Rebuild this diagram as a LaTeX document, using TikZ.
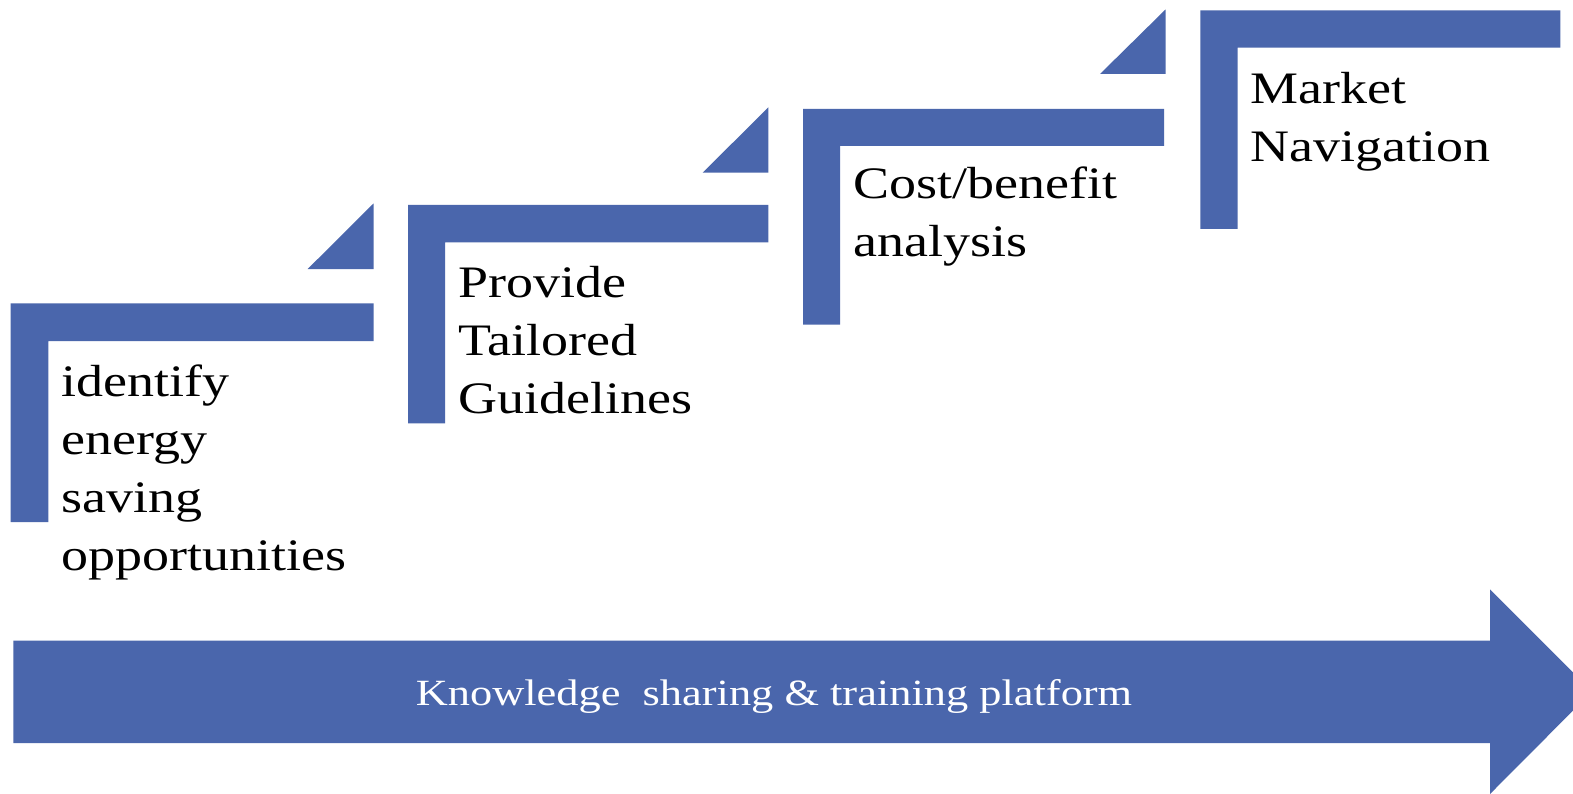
\documentclass[tikz,border=0pt]{standalone}
\usepackage{fontspec}
\setmainfont[FakeStretch=1.2]{Liberation Serif}
\definecolor{stepblue}{HTML}{4A66AC}
\tikzset{
  stepfill/.style={fill=stepblue, draw=none},
  steptext/.style={anchor=base west, inner sep=0pt, align=left, font=\fontsize{45}{57.7}\selectfont, text=black},
  bandtext/.style={anchor=base, inner sep=0pt, font=\fontsize{37}{45}\selectfont, text=white}
}
\begin{document}
\begin{tikzpicture}[x=1pt,y=-1pt]
\useasboundingbox (0,0) rectangle (1573,794);
\fill[white] (0,0) rectangle (1573,794);
% step 1
\fill[stepfill] (10.7,303.3) -- (373.7,303.3) -- (373.7,341) -- (48.3,341) -- (48.3,522) -- (10.7,522) -- cycle;
\fill[stepfill] (307.7,269) -- (373.7,203.3) -- (373.7,269) -- cycle;
\node[steptext] (s1) at (61.7,570) {identify\\energy\\saving\\opportunities};
% step 2
\fill[stepfill] (408,205) -- (768.3,205) -- (768.3,242.3) -- (445,242.3) -- (445,423.3) -- (408,423.3) -- cycle;
\fill[stepfill] (702.7,172.7) -- (768.3,107.3) -- (768.3,172.7) -- cycle;
\node[steptext] (s2) at (458.3,413.3) {Provide\\Tailored\\Guidelines};
% step 3
\fill[stepfill] (803,109) -- (1164,109) -- (1164,146) -- (840,146) -- (840,324.7) -- (803,324.7) -- cycle;
\fill[stepfill] (1100,74) -- (1165.7,9.3) -- (1165.7,74) -- cycle;
\node[steptext] (s3) at (853,256.7) {Cost/benefit\\analysis};
% step 4
\fill[stepfill] (1200.3,10.3) -- (1560.3,10.3) -- (1560.3,47.7) -- (1237.7,47.7) -- (1237.7,229) -- (1200.3,229) -- cycle;
\node[steptext] (s4) at (1250,161.7) {Market\\Navigation};
% arrow
\begin{scope}
\clip (0,0) rectangle (1573,794);
\fill[stepfill] (13.3,640.7) -- (1490,640.7) -- (1490,589.3) -- (1592,691.5) -- (1490,794) -- (1490,743) -- (13.3,743) -- cycle;
\end{scope}
\node[bandtext] (band) at (774,705) {Knowledge\ \ sharing\ \&\ training\ platform};
\end{tikzpicture}
\end{document}
